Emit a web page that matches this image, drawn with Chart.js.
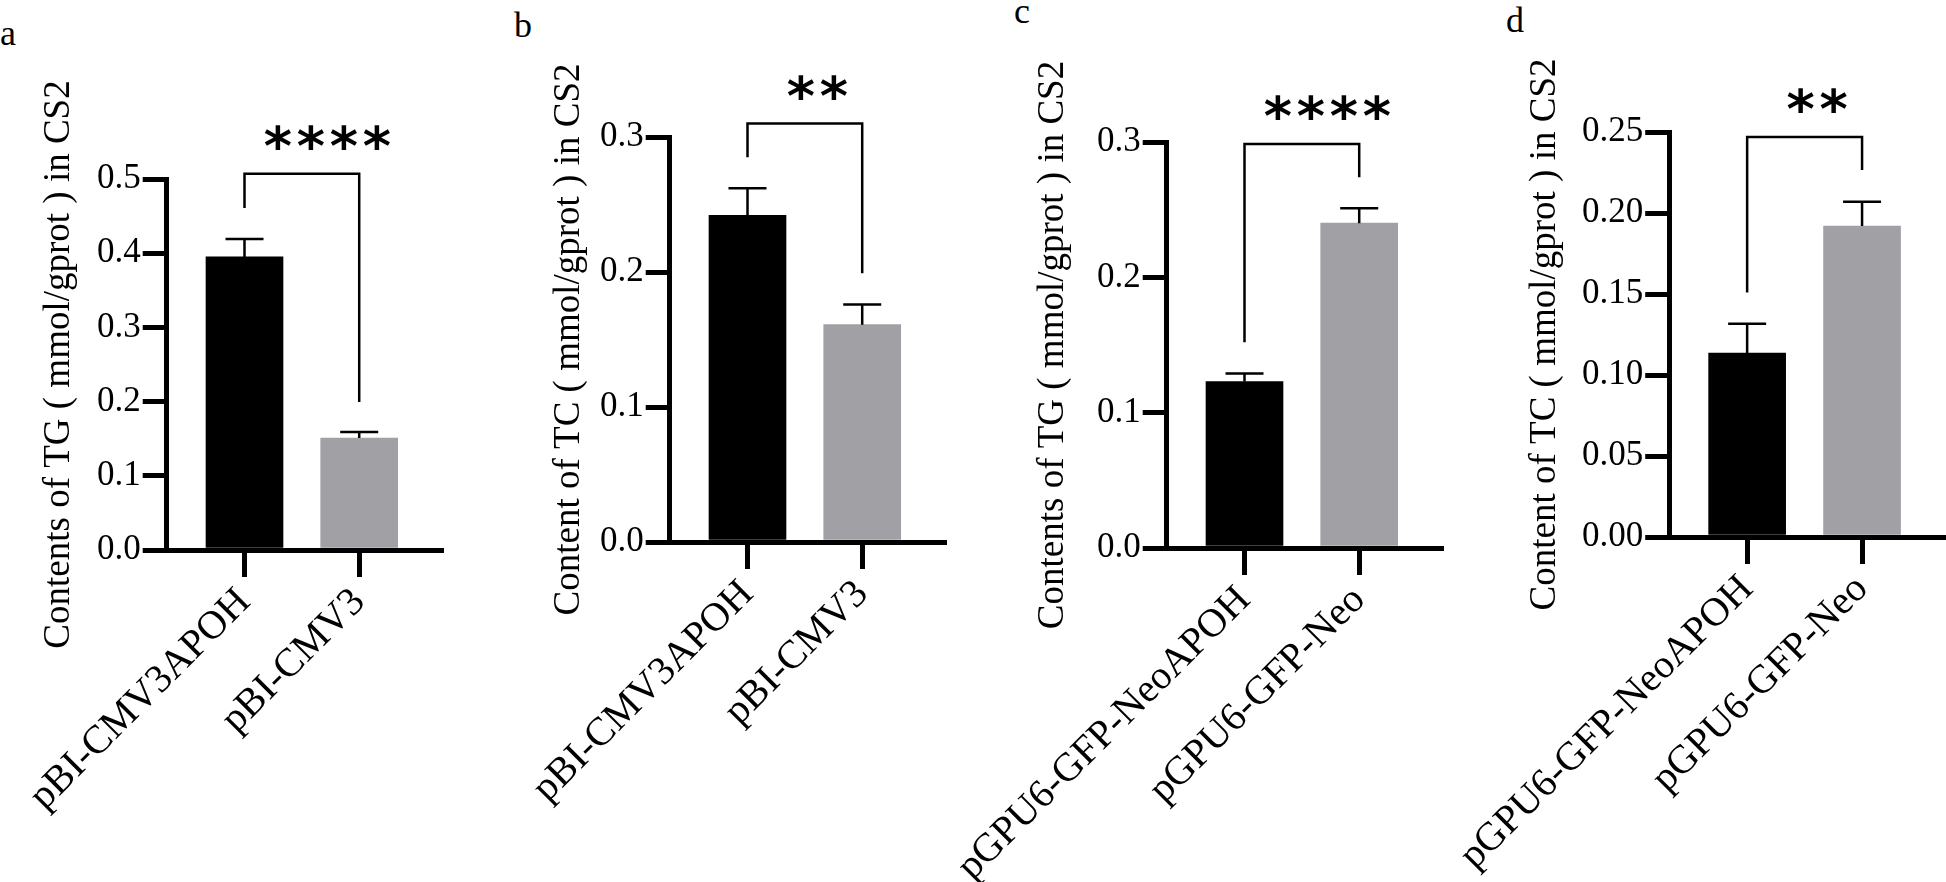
<!DOCTYPE html>
<html>
<head>
<meta charset="utf-8">
<script src="https://cdn.jsdelivr.net/npm/chart.js@4.4.0/dist/chart.umd.min.js"></script>
<style>
  html, body { margin: 0; padding: 0; background: #fff; }
  body { width: 1946px; height: 882px; position: relative; overflow: hidden; font-family: 'Liberation Serif', 'Times New Roman', serif; }
  canvas { position: absolute; top: 0; }
  .tag { position: absolute; font-size: 36px; line-height: 36px; color: #000; }
</style>
</head>
<body>
<div class="tag" style="left:0px; top:15px">a</div>
<div class="tag" style="left:514px; top:7px">b</div>
<div class="tag" style="left:1014px; top:-7px">c</div>
<div class="tag" style="left:1506px; top:2px">d</div>
<canvas id="chartA"></canvas>
<canvas id="chartB"></canvas>
<canvas id="chartC"></canvas>
<canvas id="chartD"></canvas>
<script>
// groups
const groupsAB = ['pBI-CMV3APOH', 'pBI-CMV3'];
const groupsCD = ['pGPU6-GFP-NeoAPOH', 'pGPU6-GFP-Neo'];

// a: TG, overexpression
const meanA = [0.395, 0.151];
const semA = [0.024, 0.008];
const ticksA = ['0.0', '0.1', '0.2', '0.3', '0.4', '0.5'];
const bracketA = [0.461, 0.507, 0.1995]; // left leg end, top, right leg end
const starsA = '****';

// b: TC, overexpression
const meanB = [0.242, 0.161];
const semB = [0.020, 0.015];
const ticksB = ['0.0', '0.1', '0.2', '0.3'];
const bracketB = [0.285, 0.310, 0.199];
const starsB = '**';

// c: TG, knockdown
const meanC = [0.123, 0.240];
const semC = [0.006, 0.011];
const ticksC = ['0.0', '0.1', '0.2', '0.3'];
const bracketC = [0.152, 0.2986, 0.274];
const starsC = '****';

// d: TC, knockdown
const meanD = [0.1136, 0.192];
const semD = [0.018, 0.015];
const ticksD = ['0.00', '0.05', '0.10', '0.15', '0.20', '0.25'];
const bracketD = [0.151, 0.2469, 0.2265];
const starsD = '**';

const barColors = ['#000000', '#a1a1a5'];
const H = 882;
const padL = 220; // room for the long rotated first label
const axisLen = 275;

Chart.defaults.font.family = "'Liberation Serif', 'Times New Roman', serif";
Chart.defaults.color = '#000';

// error bars, bracket and stars
const sigMarks = {
    id: 'sigMarks',
    afterDraw(chart, args, opts) {
        const ctx = chart.ctx;
        const xs = chart.scales.x, ys = chart.scales.y;
        const meta = chart.getDatasetMeta(0);
        const vals = chart.data.datasets[0].data;
        ctx.save();
        ctx.strokeStyle = '#000';
        ctx.lineWidth = 2.5;
        meta.data.forEach((bar, i) => {
            const yTop = ys.getPixelForValue(vals[i].y + opts.sem[i]);
            ctx.beginPath();
            ctx.moveTo(bar.x, bar.y);
            ctx.lineTo(bar.x, yTop);
            ctx.moveTo(bar.x - 19, yTop);
            ctx.lineTo(bar.x + 19, yTop);
            ctx.stroke();
        });

        const x1 = xs.getPixelForValue(1), x2 = xs.getPixelForValue(2);
        const [leftEnd, top, rightEnd] = opts.bracket;
        const yb = ys.getPixelForValue(top);
        ctx.beginPath();
        ctx.moveTo(x1, ys.getPixelForValue(leftEnd));
        ctx.lineTo(x1, yb);
        ctx.lineTo(x2, yb);
        ctx.lineTo(x2, ys.getPixelForValue(rightEnd));
        ctx.stroke();

        ctx.font = 'bold 54px "DejaVu Sans"';
        ctx.fillStyle = '#000';
        ctx.textAlign = 'left';
        ctx.textBaseline = 'alphabetic';
        const m = ctx.measureText('*');
        const gw = m.actualBoundingBoxLeft + m.actualBoundingBoxRight;
        const n = opts.stars.length;
        const mid = (x1 + x2) / 2 + 6.5 * n;
        const base = yb - 24 - m.actualBoundingBoxDescent;
        for (let i = 0; i < n; i++) {
            const cx = mid + (i - (n - 1) / 2) * 33;
            ctx.fillText('*', cx + m.actualBoundingBoxLeft - gw / 2, base);
        }
        ctx.restore();
    }
};

function makePanel(id, p) {
    const canvas = document.getElementById(id);
    const left = p.axisX - p.yWidth - padL;
    canvas.width = p.yWidth + padL + axisLen + 4;
    canvas.height = H;
    canvas.style.left = left + 'px';

    return new Chart(canvas.getContext('2d'), {
        type: 'bar',
        data: {
            datasets: [{
                data: p.groups.map((g, i) => ({ x: i + 1, y: p.mean[i] })),
                backgroundColor: barColors,
                borderWidth: 0,
                barThickness: 77,
            }]
        },
        options: {
            responsive: false,
            animation: false,
            devicePixelRatio: 1,
            layout: { padding: { left: padL, right: 4, top: p.top, bottom: 0 } },
            scales: {
                x: {
                    type: 'linear',
                    offset: false,
                    min: 1 - 78 / 115,
                    max: 2 + (axisLen - 193) / 115,
                    afterBuildTicks: s => { s.ticks = p.groups.map((g, i) => ({ value: i + 1 })); },
                    afterFit: s => { s.height = H - p.bottom; },
                    grid: { offset: false, drawOnChartArea: false, color: '#000', lineWidth: 5, tickLength: 27 },
                    border: { color: '#000', width: 5 },
                    ticks: {
                        autoSkip: false,
                        minRotation: 45,
                        maxRotation: 45,
                        padding: 2,
                        font: { size: 40 },
                        callback: (v, i) => p.groups[i],
                    }
                },
                y: {
                    min: 0,
                    max: Number(p.ticks[p.ticks.length - 1]),
                    afterBuildTicks: s => { s.ticks = p.ticks.map(t => ({ value: Number(t) })); },
                    afterFit: s => { s.width = p.yWidth; },
                    grid: { drawOnChartArea: false, color: '#000', lineWidth: 5, tickLength: 24 },
                    border: { color: '#000', width: 5 },
                    ticks: {
                        padding: 2,
                        font: { size: 35 },
                        callback: (v, i) => p.ticks[i],
                    },
                    title: {
                        display: true,
                        text: p.title,
                        font: { size: 37, lineHeight: 1.2 },
                        padding: { top: 0, bottom: 0 },
                    }
                }
            },
            plugins: {
                legend: { display: false },
                tooltip: { enabled: false },
                sigMarks: { sem: p.sem, bracket: p.bracket, stars: p.stars }
            }
        },
        plugins: [sigMarks]
    });
}

makePanel('chartA', {
    groups: groupsAB, mean: meanA, sem: semA, ticks: ticksA, bracket: bracketA, stars: starsA,
    title: 'Contents of TG ( mmol/gprot ) in CS2',
    axisX: 167, yWidth: 129.7, top: 179, bottom: 550
});
makePanel('chartB', {
    groups: groupsAB, mean: meanB, sem: semB, ticks: ticksB, bracket: bracketB, stars: starsB,
    title: 'Content of TC ( mmol/gprot ) in CS2',
    axisX: 670, yWidth: 122.7, top: 137, bottom: 542
});
makePanel('chartC', {
    groups: groupsCD, mean: meanC, sem: semC, ticks: ticksC, bracket: bracketC, stars: starsC,
    title: 'Contents of TG ( mmol/gprot ) in CS2',
    axisX: 1167, yWidth: 135.7, top: 142, bottom: 548
});
makePanel('chartD', {
    groups: groupsCD, mean: meanD, sem: semD, ticks: ticksD, bracket: bracketD, stars: starsD,
    title: 'Content of TC ( mmol/gprot ) in CS2',
    axisX: 1669, yWidth: 146.2, top: 132, bottom: 537
});
</script>
</body>
</html>
